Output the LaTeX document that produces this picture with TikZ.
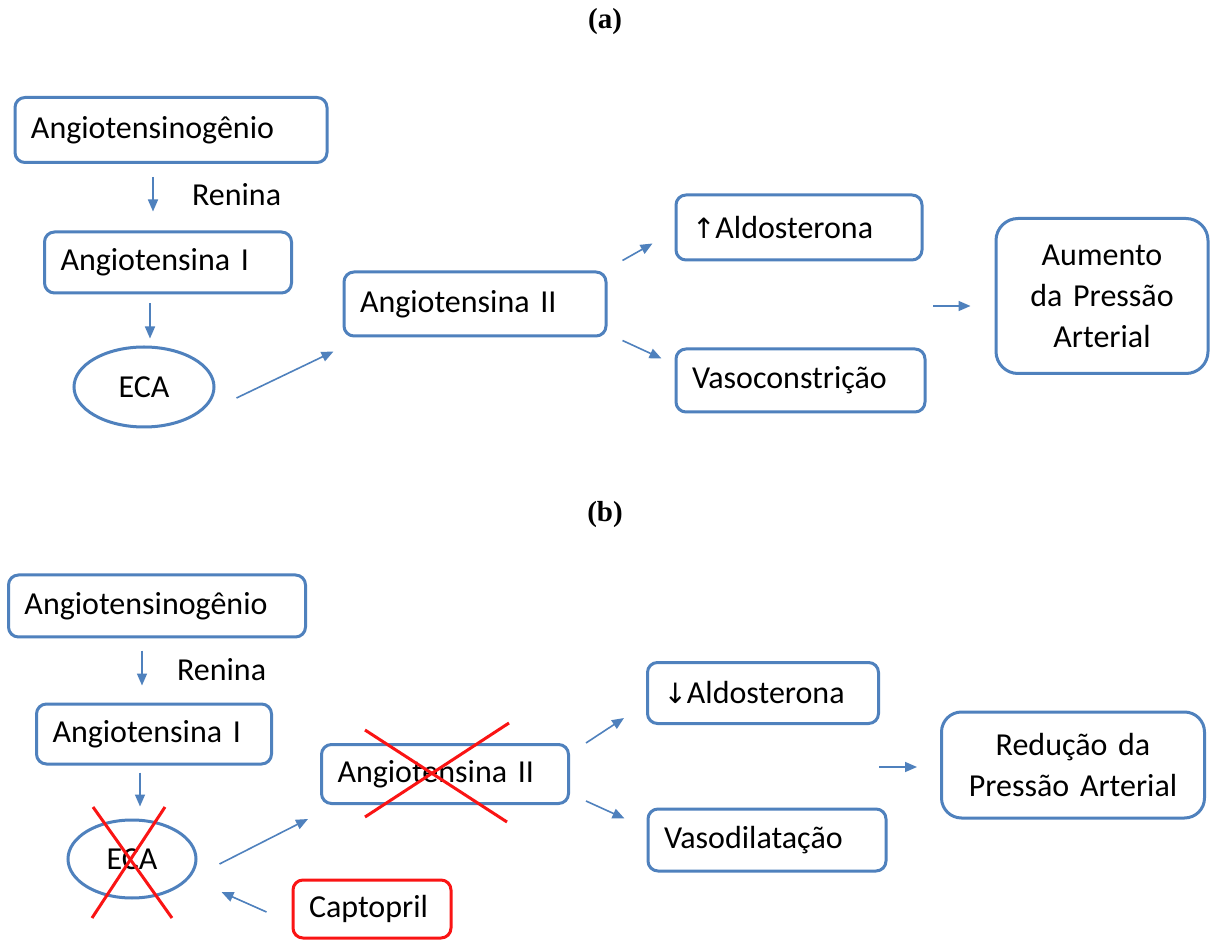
\documentclass[tikz,border=0pt]{standalone}
\usepackage{fontspec}
\setmainfont{Carlito}[WordSpace=0.7]
\newfontfamily\titfont{Liberation Serif}
\newfontfamily\setafont{DejaVu Sans}
\usetikzlibrary{arrows.meta, shapes.geometric}
\definecolor{azul}{RGB}{79,129,189}
\definecolor{vermelho}{RGB}{250,20,20}
\tikzset{>={Triangle[length=6pt, width=5pt]}}
\tikzset{
  caixa/.style={draw=azul, line width=1.5pt, rounded corners=5pt, inner xsep=8pt, align=left},
  caixagrande/.style={caixa, rounded corners=11pt, align=center},
  elipse/.style={draw=azul, line width=1.5pt, ellipse, inner sep=0pt},
  seta/.style={->, draw=azul, line width=0.8pt},
  cruz/.style={draw=vermelho, line width=1.5pt},
  titulo/.style={font=\titfont\bfseries\fontsize{14.5}{17}\selectfont}
}

\begin{document}
\begin{tikzpicture}[x=0.5pt, y=-0.5pt, font=\fontsize{16}{20.5}\selectfont]
    \useasboundingbox[fill=white] (0,0) rectangle (1210,940);

    % (a) sem inibidor
    \node[titulo] (tit-a) at (605,22) {(a)};
    \node[caixa, text width=140pt, minimum height=32.5pt] (ango-a) at (171,130) {Angiotensinogênio};
    \node[anchor=west] (ren-a) at (185,195) {Renina};
    \node[caixa, text width=107.5pt, minimum height=30.5pt] (ang1-a) at (168,262.5) {Angiotensina I};
    \node[elipse, minimum width=70pt, minimum height=40pt] (eca-a) at (144,387) {ECA};
    \node[caixa, text width=115pt, minimum height=32pt] (ang2-a) at (475,304) {Angiotensina II};
    \node[caixa, text width=107pt, minimum height=32.5pt] (ald-a) at (799,227.5) {{\setafont\fontsize{14}{17}\selectfont ↑}Aldosterona};
    \node[caixa, text width=108.5pt, minimum height=31.5pt] (vaso-a) at (800.5,380.5) {Vasoconstrição};
    \node[caixagrande, text width=90pt, minimum height=77.5pt] (aum-a) at (1102,296) {Aumento\\da Pressão\\Arterial};
    \coordinate (junta-a) at (933,306);

    \draw[seta] ([shift={(-18,13)}]ango-a.south) -- ([shift={(-15,-19)}]ang1-a.north);
    \draw[seta] ([shift={(-18,9)}]ang1-a.south) -- ([shift={(6,-7)}]eca-a.north);
    \draw[seta] ([shift={(21,11)}]eca-a.east) -- ([shift={(-9,14)}]ang2-a.south west);
    \draw[seta] ([shift={(15,-10)}]ang2-a.north east) -- ([shift={(-22,-18)}]ald-a.south west);
    \draw[seta] ([shift={(15,3)}]ang2-a.south east) -- ([shift={(-13,11)}]vaso-a.north west);
    \draw[seta] (junta-a) -- ([shift={(-24,10)}]aum-a.west);

    % (b) com captopril
    \node[titulo] (tit-b) at (605,515) {(b)};
    \node[caixa, text width=132.5pt, minimum height=31pt] (ango-b) at (157,606) {Angiotensinogênio};
    \node[anchor=west] (ren-b) at (170,670) {Renina};
    \node[caixa, text width=101.5pt, minimum height=30pt] (ang1-b) at (154,734) {Angiotensina I};
    \node[elipse, minimum width=64pt, minimum height=39pt] (eca-b) at (132,859) {ECA};
    \node[caixa, text width=107.5pt, minimum height=29.5pt] (ang2-b) at (445,774) {Angiotensina II};
    \node[caixa, text width=99.5pt, minimum height=30.5pt] (ald-b) at (763,693) {{\setafont\fontsize{14}{17}\selectfont ↓}Aldosterona};
    \node[caixa, text width=103pt, minimum height=31pt] (vaso-b) at (767,840) {Vasodilatação};
    \node[caixagrande, inner xsep=6pt, text width=119.5pt, minimum height=53pt, rounded corners=10pt] (red-b) at (1073,765) {Redução da\\Pressão Arterial};
    \node[caixa, draw=vermelho, text width=63pt, minimum height=29pt] (capto) at (372,909) {Captopril};
    \coordinate (junta-b) at (879,767);

    \draw[seta] ([shift={(-15,12)}]ango-b.south) -- ([shift={(-12,-17)}]ang1-b.north);
    \draw[seta] ([shift={(-14,7)}]ang1-b.south) -- ([shift={(8,-12)}]eca-b.north);
    \draw[seta] ([shift={(22,5)}]eca-b.east) -- ([shift={(-12,14)}]ang2-b.south west);
    \draw[seta] ([shift={(16,0)}]ang2-b.north east) -- ([shift={(-22,-7)}]ald-b.south west);
    \draw[seta] ([shift={(16,-4)}]ang2-b.south east) -- ([shift={(-22,11)}]vaso-b.north west);
    \draw[seta] (junta-b) -- ([shift={(-23,2)}]red-b.west);
    \draw[seta] ([shift={(-25,3)}]capto.west) -- ([shift={(24,33)}]eca-b.east);

    % bloqueios
    \draw[cruz] ([shift={(-39,-52)}]eca-b.center) -- ([shift={(40,59)}]eca-b.center);
    \draw[cruz] ([shift={(33,-52)}]eca-b.center) -- ([shift={(-40,59)}]eca-b.center);
    \draw[cruz] ([shift={(-80,-44)}]ang2-b.center) -- ([shift={(62,48)}]ang2-b.center);
    \draw[cruz] ([shift={(64,-51)}]ang2-b.center) -- ([shift={(-80,43)}]ang2-b.center);
\end{tikzpicture}
\end{document}
